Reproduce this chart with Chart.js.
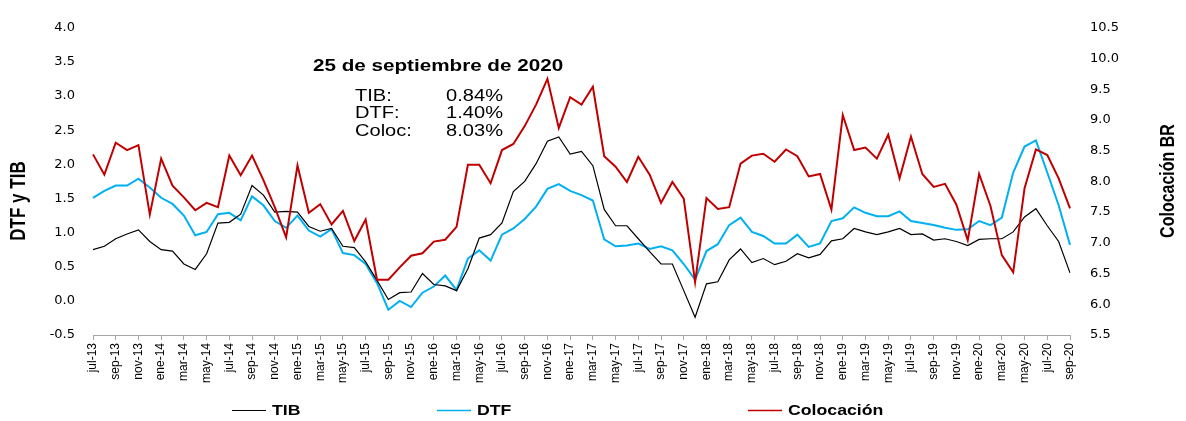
<!DOCTYPE html>
<html>
<head>
<meta charset="utf-8">
<script src="https://cdn.jsdelivr.net/npm/chart.js@4.4.0/dist/chart.umd.min.js"></script>
<style>
  html, body { margin: 0; padding: 0; background: #fff; }
  #wrap { width: 1186px; height: 421px; }
</style>
</head>
<body>
<div id="wrap"><canvas id="chart" width="1186" height="421"></canvas></div>
<script>
// Months jul-13 .. sep-20
const months = [
  'jul-13','ago-13','sep-13','oct-13','nov-13','dic-13',
  'ene-14','feb-14','mar-14','abr-14','may-14','jun-14','jul-14','ago-14','sep-14','oct-14','nov-14','dic-14',
  'ene-15','feb-15','mar-15','abr-15','may-15','jun-15','jul-15','ago-15','sep-15','oct-15','nov-15','dic-15',
  'ene-16','feb-16','mar-16','abr-16','may-16','jun-16','jul-16','ago-16','sep-16','oct-16','nov-16','dic-16',
  'ene-17','feb-17','mar-17','abr-17','may-17','jun-17','jul-17','ago-17','sep-17','oct-17','nov-17','dic-17',
  'ene-18','feb-18','mar-18','abr-18','may-18','jun-18','jul-18','ago-18','sep-18','oct-18','nov-18','dic-18',
  'ene-19','feb-19','mar-19','abr-19','may-19','jun-19','jul-19','ago-19','sep-19','oct-19','nov-19','dic-19',
  'ene-20','feb-20','mar-20','abr-20','may-20','jun-20','jul-20','ago-20','sep-20'
];

const tib = [
  0.75, 0.80, 0.91, 0.98, 1.04, 0.87,
  0.75, 0.73, 0.54, 0.46, 0.69, 1.14, 1.15, 1.27, 1.69, 1.55, 1.30, 1.31,
  1.30, 1.09, 1.02, 1.06, 0.80, 0.78, 0.57, 0.30, 0.02, 0.12, 0.13, 0.40,
  0.24, 0.22, 0.15, 0.47, 0.92, 0.97, 1.14, 1.60, 1.75, 2.01, 2.34, 2.40,
  2.15, 2.19, 1.98, 1.34, 1.10, 1.10, 0.91, 0.72, 0.54, 0.54, 0.15, -0.24,
  0.25, 0.28, 0.60, 0.76, 0.56, 0.62, 0.53, 0.58, 0.69, 0.63, 0.68, 0.88,
  0.91, 1.06, 1.01, 0.97, 1.01, 1.06, 0.97, 0.98, 0.89, 0.91, 0.87, 0.81,
  0.90, 0.91, 0.91, 1.01, 1.23, 1.35, 1.10, 0.87, 0.41
];

const dtf = [
  1.51, 1.61, 1.69, 1.69, 1.79, 1.66,
  1.51, 1.42, 1.25, 0.96, 1.01, 1.27, 1.29, 1.18, 1.53, 1.40, 1.17, 1.07,
  1.25, 1.03, 0.94, 1.05, 0.70, 0.67, 0.54, 0.26, -0.13, 0.00, -0.09, 0.12,
  0.21, 0.37, 0.16, 0.62, 0.74, 0.59, 0.97, 1.06, 1.20, 1.38, 1.64, 1.71,
  1.61, 1.55, 1.47, 0.90, 0.80, 0.81, 0.84, 0.76, 0.80, 0.74, 0.54, 0.31,
  0.73, 0.83, 1.11, 1.22, 1.01, 0.95, 0.84, 0.84, 0.97, 0.79, 0.84, 1.17,
  1.21, 1.37, 1.29, 1.24, 1.24, 1.31, 1.17, 1.14, 1.11, 1.07, 1.04, 1.05,
  1.17, 1.11, 1.22, 1.88, 2.26, 2.35, 1.88, 1.40, 0.82
];

const colocacion = [
  8.44, 8.11, 8.63, 8.51, 8.59, 7.46,
  8.37, 7.93, 7.74, 7.53, 7.65, 7.58, 8.42, 8.10, 8.42, 8.02, 7.58, 7.09,
  8.26, 7.49, 7.63, 7.30, 7.52, 7.03, 7.38, 6.40, 6.40, 6.60, 6.79, 6.83,
  7.02, 7.05, 7.26, 8.27, 8.27, 7.97, 8.51, 8.61, 8.90, 9.25, 9.67, 8.87,
  9.37, 9.25, 9.54, 8.41, 8.24, 7.99, 8.40, 8.11, 7.65, 7.99, 7.72, 6.36,
  7.73, 7.55, 7.58, 8.29, 8.42, 8.45, 8.32, 8.52, 8.41, 8.08, 8.12, 7.54,
  9.08, 8.51, 8.55, 8.37, 8.76, 8.05, 8.73, 8.12, 7.91, 7.96, 7.62, 7.04,
  8.12, 7.60, 6.80, 6.52, 7.89, 8.52, 8.43, 8.05, 7.56
];

// Annotation box
const noteDate = '25 de septiembre de 2020';
const noteLabels = ['TIB:', 'DTF:', 'Coloc:'];
const noteValues = ['0.84%', '1.40%', '8.03%'];

const leftTitle = 'DTF y TIB';
const rightTitle = 'Colocación BR';

// draw text squeezed/stretched sideways like the original export
function drawText(ctx, text, x, y, font, align, sx) {
  ctx.save();
  ctx.translate(x, y);
  ctx.scale(sx, 1);
  ctx.font = font;
  ctx.textAlign = align;
  ctx.textBaseline = 'middle';
  ctx.fillStyle = '#000';
  ctx.fillText(text, 0, 0);
  ctx.restore();
}

function drawVertical(ctx, text, x, y, font, sy) {
  ctx.save();
  ctx.translate(x, y);
  ctx.rotate(-Math.PI / 2);
  ctx.scale(1, sy);
  ctx.font = font;
  ctx.textAlign = 'center';
  ctx.textBaseline = 'middle';
  ctx.fillStyle = '#000';
  ctx.fillText(text, 0, 0);
  ctx.restore();
}

const overlay = {
  id: 'overlay',
  afterDraw(chart) {
    const ctx = chart.ctx;

    // axis titles
    drawVertical(ctx, leftTitle, 19, 201, 'bold 17px "Liberation Sans", Arial, sans-serif', 1.25);
    drawVertical(ctx, rightTitle, 1168, 181, 'bold 16px "Liberation Sans", Arial, sans-serif', 1.25);

    // note
    drawText(ctx, noteDate, 313, 67, 'bold 16px "Liberation Sans", Arial, sans-serif', 'left', 1.29);
    noteLabels.forEach((lab, i) => {
      const y = 96 + i * 17.5;
      drawText(ctx, lab, 355, y, '17px "Liberation Sans", Arial, sans-serif', 'left', 1.18);
      drawText(ctx, noteValues[i], 503, y, '17px "Liberation Sans", Arial, sans-serif', 'right', 1.18);
    });

    // legend
    const starts = [232, 437, 748];
    chart.data.datasets.forEach((ds, i) => {
      const x0 = starts[i];
      ctx.save();
      ctx.strokeStyle = ds.borderColor;
      ctx.lineWidth = i === 0 ? 1 : 1.5;
      ctx.beginPath();
      ctx.moveTo(x0, 410.5);
      ctx.lineTo(x0 + 34, 410.5);
      ctx.stroke();
      ctx.restore();
      drawText(ctx, ds.label, x0 + 40, 411, 'bold 15px "Liberation Sans", Arial, sans-serif', 'left', 1.18);
    });
  }
};

const ctx = document.getElementById('chart').getContext('2d');
new Chart(ctx, {
  type: 'line',
  data: {
    labels: months,
    datasets: [
      {
        label: 'TIB',
        data: tib,
        yAxisID: 'y',
        borderColor: '#000000',
        borderWidth: 1.2,
        order: 1
      },
      {
        label: 'DTF',
        data: dtf,
        yAxisID: 'y',
        borderColor: '#00b0f0',
        borderWidth: 2,
        order: 2
      },
      {
        label: 'Colocación',
        data: colocacion,
        yAxisID: 'y1',
        borderColor: '#c00000',
        borderWidth: 2,
        order: 0
      }
    ]
  },
  options: {
    responsive: false,
    animation: false,
    devicePixelRatio: 1,
    elements: {
      point: { radius: 0 },
      line: { tension: 0, fill: false }
    },
    layout: { padding: { top: 11, left: 0, right: 0, bottom: 0 } },
    plugins: {
      legend: { display: false },
      tooltip: { enabled: false }
    },
    scales: {
      x: {
        offset: false,
        afterFit: (s) => { s.height = 86; },
        grid: {
          drawOnChartArea: false,
          drawTicks: true,
          tickLength: 5,
          color: '#a6a6a6'
        },
        border: { display: true, color: '#a6a6a6', width: 1 },
        ticks: {
          autoSkip: false,
          minRotation: 90,
          maxRotation: 90,
          padding: 3,
          color: '#000',
          font: { family: '"Liberation Sans", Arial, sans-serif', size: 12 },
          callback: function (value, index) {
            return index % 2 === 0 ? months[index] : null;
          }
        }
      },
      y: {
        position: 'left',
        min: -0.5,
        max: 4.0,
        afterFit: (s) => { s.width = 93; },
        grid: { display: false, drawTicks: false },
        border: { display: false },
        ticks: {
          stepSize: 0.5,
          padding: 18,
          color: '#000',
          font: { family: '"DejaVu Sans", Verdana, sans-serif', size: 13 },
          callback: (v) => v.toFixed(1)
        }
      },
      y1: {
        position: 'right',
        min: 5.5,
        max: 10.5,
        afterFit: (s) => { s.width = 116; },
        grid: { display: false, drawTicks: false },
        border: { display: false },
        ticks: {
          stepSize: 0.5,
          padding: 20,
          color: '#000',
          font: { family: '"DejaVu Sans", Verdana, sans-serif', size: 13 },
          callback: (v) => v.toFixed(1)
        }
      }
    }
  },
  plugins: [overlay]
});
</script>
</body>
</html>
